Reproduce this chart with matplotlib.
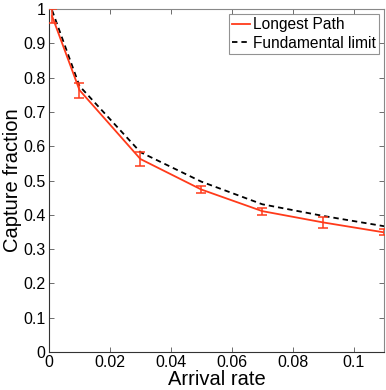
import matplotlib
matplotlib.use("Agg")
import matplotlib.pyplot as plt
from matplotlib.lines import Line2D

plt.rcParams['font.family'] = ['Liberation Sans', 'DejaVu Sans']

arrival = [0.001, 0.01, 0.03, 0.05, 0.07, 0.09, 0.11]
longest = [0.98, 0.764, 0.563, 0.474, 0.411, 0.378, 0.349]
longest_err = [0.02, 0.022, 0.021, 0.011, 0.010, 0.015, 0.009]
limit = [0.997, 0.776, 0.583, 0.497, 0.431, 0.397, 0.367]

xticks = [0, 0.02, 0.04, 0.06, 0.08, 0.1]
xticklabels = ['0', '0.02', '0.04', '0.06', '0.08', '0.1']
yticks = [0, 0.1, 0.2, 0.3, 0.4, 0.5, 0.6, 0.7, 0.8, 0.9, 1]
yticklabels = ['0', '0.1', '0.2', '0.3', '0.4', '0.5', '0.6', '0.7', '0.8', '0.9', '1']
legend_labels = ['Longest Path', 'Fundamental limit']

red = '#ff3a1a'
dash = (0, (3, 2.2))

fig = plt.figure(figsize=(3.86, 3.90), dpi=100)
ax = fig.add_axes([0.127, 0.0974, 0.868, 0.879])

ax.errorbar(arrival, longest, yerr=longest_err, color=red, lw=1.3,
            capsize=3.5, capthick=1.1, elinewidth=1.1, zorder=3)
ax.plot(arrival, limit, color='black', lw=1.3, ls=dash, zorder=2)

ax.set_xlim(0, 0.11)
ax.set_ylim(0, 1)
ax.set_xticks(xticks)
ax.set_xticklabels(xticklabels)
ax.set_yticks(yticks)
ax.set_yticklabels(yticklabels)
ax.tick_params(direction='in', length=3.5, width=0.6, labelsize=11.5,
               top=True, right=True, color='#555555', pad=2.5)
for s in ['left', 'bottom']:
    ax.spines[s].set_color('#333333')
    ax.spines[s].set_linewidth(0.8)
for s in ['top', 'right']:
    ax.spines[s].set_color('#888888')
    ax.spines[s].set_linewidth(0.8)

ax.set_xlabel('Arrival rate', fontsize=14.5, labelpad=0)
ax.set_ylabel('Capture fraction', fontsize=14.5, labelpad=1)

h = [Line2D([], [], color=red, lw=1.3),
     Line2D([], [], color='black', lw=1.3, ls=dash)]
leg = ax.legend(h, legend_labels, loc='upper right',
                fontsize=11.2, frameon=True, fancybox=False, borderpad=0.2,
                handlelength=1.2, handletextpad=0.2, labelspacing=0.25,
                borderaxespad=0.3)
leg.get_frame().set_edgecolor('#777777')
leg.get_frame().set_linewidth(0.8)

fig.savefig('out.png', dpi=100)
